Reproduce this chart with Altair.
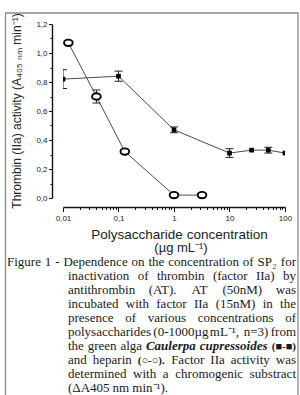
import altair as alt
import pandas as pd

# ---------------------------------------------------------------- data
# SP2 from Caulerpa cupressoides (filled squares)
sp2_conc = [0.01, 0.1, 1, 10, 25, 50, 100]
sp2_act = [0.82, 0.84, 0.47, 0.31, 0.33, 0.33, 0.31]
sp2_err = [0.065, 0.035, 0.02, 0.03, 0.0, 0.02, 0.0]

# Heparin (open circles)
hep_conc = [0.0125, 0.04, 0.13, 1, 3.2]
hep_act = [1.07, 0.70, 0.32, 0.02, 0.02]
hep_err = [0.0, 0.045, 0.0, 0.0, 0.0]

y_ticks = [round(i * 0.1, 1) for i in range(13)]
x_ticks = [m * 10.0 ** e for e in range(-2, 2) for m in range(1, 10)] + [100.0]

y_title = "Thrombin (IIa) activity (A\u2084\u2080\u2085 \u2099\u2098 min\u207b\u00b9)"
x_title_1 = "Polysaccharide concentration"
x_title_2 = "(\u00b5g mL\u207b\u00b9)"

caption_lines = [
    "Figure 1 - Dependence on the concentration of SP\u2082 for",
    "inactivation of thrombin (factor IIa) by",
    "antithrombin (AT). AT (50nM) was",
    "incubated with factor IIa (15nM) in the",
    "presence of various concentrations of",
    "polysaccharides (0-1000\u00b5g mL\u207b\u00b9, n=3) from",
    "the green alga Caulerpa cupressoides (\u25a0-\u25a0)",
    "and heparin (\u25cb-\u25cb). Factor IIa activity was",
    "determined with a chromogenic substract",
    "(\u0394A405 nm min\u207b\u00b9).",
]
bold_italic_words = {"Caulerpa", "cupressoides"}
symbol_words = {"(\u25a0-\u25a0)", "(\u25cb-\u25cb)."}

# ---------------------------------------------------------------- layout
W, H = 222, 174            # plot area
PAD = {"left": 63, "top": 24, "right": 15, "bottom": 197}
SANS = "Liberation Sans"
SERIF = "Liberation Serif"
CAP_SIZE = 13
SYM_SIZE = 11
LINE_GAP = 13.95
FIRST_BASELINE = 266 - PAD["top"]

# Liberation Serif advance widths (1/1000 em)
TIMES = {
    " ": 250, "(": 333, ")": 333, ",": 250, "-": 333, ".": 250, "=": 564,
    "a": 444, "b": 500, "c": 444, "d": 500, "e": 444, "f": 333, "g": 500,
    "h": 500, "i": 278, "j": 278, "k": 500, "l": 278, "m": 778, "n": 500,
    "o": 500, "p": 500, "q": 500, "r": 333, "s": 389, "t": 278, "u": 500,
    "v": 500, "w": 722, "x": 500, "y": 500, "z": 444,
    "A": 722, "C": 667, "D": 722, "F": 556, "I": 333, "L": 611, "M": 889,
    "P": 556, "S": 556, "T": 611,
    "\u00b5": 500, "\u0394": 612, "\u2082": 380, "\u207b": 500, "\u00b9": 300,
    "\u25a0": 620, "\u25cb": 620,
}
# Liberation Serif Bold Italic
TIMES_BI = {
    "a": 500, "c": 444, "d": 500, "e": 444, "i": 278, "l": 278, "o": 500,
    "p": 500, "r": 389, "s": 389, "u": 556, "C": 667,
}


def word_width(word, size, bold_italic=False):
    table = TIMES_BI if bold_italic else TIMES
    return sum(table.get(ch, TIMES.get(ch, 500)) for ch in word) * size / 1000.0


rows = []
for i, line in enumerate(caption_lines):
    words = line.split(" ")
    left = 7 - PAD["left"] if i == 0 else 68 - PAD["left"]
    right = 296 - PAD["left"]
    sizes = [SYM_SIZE if w in symbol_words else CAP_SIZE for w in words]
    widths = [word_width(w, s, w in bold_italic_words) for w, s in zip(words, sizes)]
    justified = i < len(caption_lines) - 1
    if justified and len(words) > 1:
        gap = (right - left - sum(widths)) / (len(words) - 1)
    else:
        gap = TIMES[" "] * CAP_SIZE / 1000.0
    x = left
    for j, (w, wd, s) in enumerate(zip(words, widths, sizes)):
        last = justified and j == len(words) - 1
        if w in bold_italic_words:
            style = "bi"
        elif w in symbol_words:
            style = "sym"
        else:
            style = "reg"
        rows.append({
            "word": w,
            "px": right if last else x,
            "py": FIRST_BASELINE + i * LINE_GAP,
            "fs": s,
            "kind": style + ("_r" if last else "_l"),
        })
        x += wd + gap
caption = pd.DataFrame(rows)

sp2 = pd.DataFrame({"conc": sp2_conc, "act": sp2_act, "err": sp2_err})
sp2["lo"] = sp2["act"] - sp2["err"]
sp2["hi"] = sp2["act"] + sp2["err"]
hep = pd.DataFrame({"conc": hep_conc, "act": hep_act, "err": hep_err})
hep["lo"] = hep["act"] - hep["err"]
hep["hi"] = hep["act"] + hep["err"]

# ---------------------------------------------------------------- scales / axes
x_scale = alt.Scale(type="log", domain=[0.01, 100], nice=False)
y_scale = alt.Scale(domain=[0, 1.2], nice=False, zero=False)

major_x = "abs(log(datum.value)/LN10 - round(log(datum.value)/LN10)) < 0.000001"
major_y = "round(datum.value*10) % 2 == 0"

x_axis = alt.Axis(
    values=x_ticks, title=None, offset=9, grid=False,
    domainColor="#111", domainWidth=1.4, tickColor="#111", tickWidth=1,
    tickSize={"condition": {"test": major_x, "value": 4.5}, "value": 2.5},
    labelExpr=f"({major_x}) ? replace(toString(datum.value), '.', ',') : ''",
    labelFont=SANS, labelFontSize=8, labelColor="#222", labelPadding=3,
    labelFlush=False, labelOverlap=False,
)
y_axis = alt.Axis(
    values=y_ticks, title=None, offset=11, grid=False,
    domainColor="#111", domainWidth=1.4, tickColor="#111", tickWidth=1,
    tickSize={"condition": {"test": major_y, "value": 3.5}, "value": 2},
    labelExpr=f"({major_y}) ? replace(format(datum.value, '.1f'), '.', ',') : ''",
    labelFont=SANS, labelFontSize=8, labelColor="#222", labelPadding=1.5,
    labelOverlap=False,
)

X = alt.X("conc:Q", scale=x_scale, axis=x_axis)
Y = alt.Y("act:Q", scale=y_scale, axis=y_axis)
YLO = alt.Y("lo:Q", scale=y_scale, axis=y_axis)
YHI = alt.Y("hi:Q", scale=y_scale, axis=y_axis)

LINE_COLOR = "#4a4a4a"

# ---------------------------------------------------------------- SP2 series
sp2_base = alt.Chart(sp2)
sp2_line = sp2_base.mark_line(color=LINE_COLOR, strokeWidth=1, clip=True).encode(x=X, y=Y)
sp2_err_base = sp2_base.transform_filter("datum.err > 0")
sp2_bar = sp2_err_base.mark_rule(color="#222", strokeWidth=1, clip=True).encode(
    x=X, y=YLO, y2="hi:Q")
sp2_cap_lo = sp2_err_base.mark_tick(
    orient="horizontal", size=8, thickness=1, color="#222", opacity=1, clip=True
).encode(x=X, y=YLO)
sp2_cap_hi = sp2_err_base.mark_tick(
    orient="horizontal", size=8, thickness=1, color="#222", opacity=1, clip=True
).encode(x=X, y=YHI)
sp2_pts = sp2_base.mark_point(
    shape="square", filled=True, color="black", size=22, opacity=1, clip=True
).encode(x=X, y=Y)

# ---------------------------------------------------------------- heparin series
ellipse = "M -1 0 A 1 0.74 0 1 0 1 0 A 1 0.74 0 1 0 -1 0 Z"
hep_base = alt.Chart(hep)
hep_line = hep_base.mark_line(color=LINE_COLOR, strokeWidth=1).encode(x=X, y=Y)
hep_err_base = hep_base.transform_filter("datum.err > 0")
hep_bar = hep_err_base.mark_rule(color="#222", strokeWidth=1).encode(x=X, y=YLO, y2="hi:Q")
hep_cap_lo = hep_err_base.mark_tick(
    orient="horizontal", size=8, thickness=1, color="#222", opacity=1
).encode(x=X, y=YLO)
hep_cap_hi = hep_err_base.mark_tick(
    orient="horizontal", size=8, thickness=1, color="#222", opacity=1
).encode(x=X, y=YHI)
hep_pts = hep_base.mark_point(
    shape=ellipse, filled=False, fill="white", fillOpacity=1, stroke="black",
    strokeWidth=1.9, size=75, opacity=1
).encode(x=X, y=Y)

# ---------------------------------------------------------------- titles & caption
one = pd.DataFrame({"k": [0]})
frame = alt.Chart(one).mark_rect(
    fillOpacity=0, stroke="#8a8a8a", strokeWidth=1.3
).encode(
    x=alt.value(5.5 - PAD["left"]), x2=alt.value(298 - PAD["left"]),
    y=alt.value(13 - PAD["top"]), y2=alt.value(420 - PAD["top"]),
)

ytitle = alt.Chart(one).mark_text(
    text=y_title, angle=270, font=SANS, fontSize=12, color="#222",
    align="center", baseline="middle",
).encode(x=alt.value(17 - PAD["left"]), y=alt.value(111 - PAD["top"]))

xtitle1 = alt.Chart(one).mark_text(
    text=x_title_1, font=SANS, fontSize=13.5, color="#222",
    align="center", baseline="middle",
).encode(x=alt.value(179.5 - PAD["left"]), y=alt.value(234.5 - PAD["top"]))
xtitle2 = alt.Chart(one).mark_text(
    text=x_title_2, font=SANS, fontSize=13, color="#222",
    align="center", baseline="middle",
).encode(x=alt.value(181 - PAD["left"]), y=alt.value(248.3 - PAD["top"]))


def caption_layer(kind, align, style="reg"):
    extra = {}
    if style == "bi":
        extra = {"fontWeight": "bold", "fontStyle": "italic"}
    elif style == "sym":
        extra = {"fontWeight": "bold"}
    return alt.Chart(caption).transform_filter(
        alt.datum.kind == kind
    ).mark_text(
        font=SERIF, color="#1a1a1a", align=align, baseline="alphabetic", **extra
    ).encode(
        x=alt.X("px:Q", scale=None),
        y=alt.Y("py:Q", scale=None),
        size=alt.Size("fs:Q", scale=None, legend=None),
        text="word:N",
    )


cap_layers = [
    caption_layer("reg_l", "left"),
    caption_layer("reg_r", "right"),
    caption_layer("bi_l", "left", "bi"),
    caption_layer("sym_l", "left", "sym"),
    caption_layer("sym_r", "right", "sym"),
]

chart = alt.layer(
    frame,
    sp2_line, sp2_bar, sp2_cap_lo, sp2_cap_hi, sp2_pts,
    hep_line, hep_bar, hep_cap_lo, hep_cap_hi, hep_pts,
    ytitle, xtitle1, xtitle2,
    *cap_layers,
).properties(
    width=W, height=H,
    autosize=alt.AutoSizeParams(type="none"),
    padding=PAD,
    background="white",
).configure_view(stroke=None)

chart.save("out.html", embed_options={"renderer": "svg", "actions": False})
